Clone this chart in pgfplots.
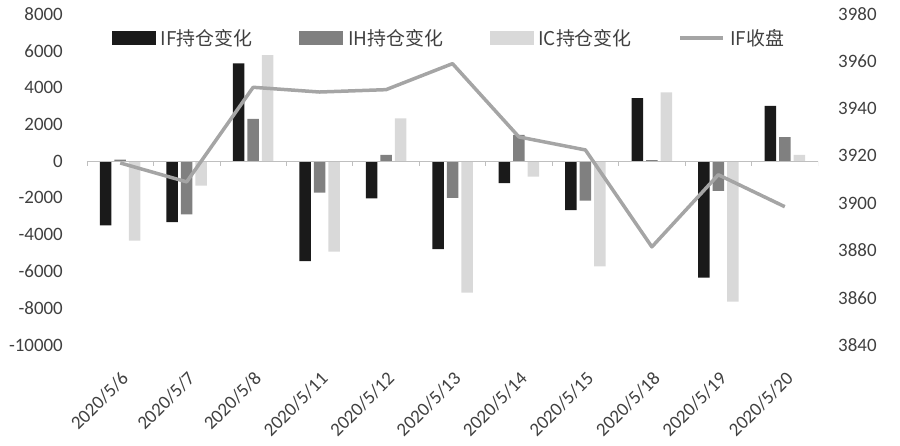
\documentclass[border=0pt]{standalone}
\usepackage{fontspec}
\setmainfont{Carlito}
\newfontfamily\cjk{Noto Sans CJK SC}
\usepackage{pgfplots}
\pgfplotsset{compat=1.18}
\definecolor{cIF}{HTML}{1A1A1A}
\definecolor{cIH}{HTML}{808080}
\definecolor{cIC}{HTML}{D9D9D9}
\definecolor{cLine}{HTML}{A5A5A5}
\definecolor{cTxt}{HTML}{404040}
\definecolor{cZero}{HTML}{BFBFBF}
\begin{document}
\begin{tikzpicture}
\path[use as bounding box] (-87bp,-101bp) rectangle (813bp,345bp);
\begin{axis}[
  scale only axis, width=731bp, height=331bp,
  at={(0,0)}, anchor=south west,
  xmin=-0.5, xmax=10.5, ymin=-10000, ymax=8000,
  ytick={-10000,-8000,...,8000},
  axis x line*=bottom, axis y line*=left,
  axis line style={draw=none},
  xtick={0,...,10},
  xticklabels={2020/5/6,2020/5/7,2020/5/8,2020/5/11,2020/5/12,2020/5/13,2020/5/14,2020/5/15,2020/5/18,2020/5/19,2020/5/20},
  xtick style={draw=none}, ytick style={draw=none},
  tick label style={font=\fontsize{19}{19}\selectfont, text=cTxt},
  xticklabel style={rotate=45, anchor=north east, inner sep=0pt},
  xticklabel shift=21bp,
  yticklabel style={inner sep=0pt, anchor=east},
  yticklabel shift=24bp,
  scaled y ticks=false,
  /pgf/number format/assume math mode=true,
  /pgf/number format/1000 sep={},
  ybar, bar width=11.5bp,
]
\addplot[fill=cIF, draw=none, bar shift=-14.5bp] coordinates {
  (0,-3500) (1,-3320) (2,5320) (3,-5440) (4,-2020) (5,-4790) (6,-1200) (7,-2670) (8,3420) (9,-6330) (10,3000)};
\addplot[fill=cIH, draw=none, bar shift=0bp] coordinates {
  (0,80) (1,-2890) (2,2290) (3,-1710) (4,340) (5,-2000) (6,1420) (7,-2150) (8,60) (9,-1620) (10,1300)};
\addplot[fill=cIC, draw=none, bar shift=14.5bp] coordinates {
  (0,-4330) (1,-1330) (2,5770) (3,-4920) (4,2330) (5,-7150) (6,-840) (7,-5730) (8,3740) (9,-7640) (10,340)};
\draw[cZero, line width=0.8bp] (axis cs:-0.5,0) -- (axis cs:10.5,0);
\draw[cZero, line width=0.8bp] (axis cs:-0.5,0) -- +(0bp,-5bp);
\draw[cZero, line width=0.8bp] (axis cs:0.5,0) -- +(0bp,-5bp);
\draw[cZero, line width=0.8bp] (axis cs:1.5,0) -- +(0bp,-5bp);
\draw[cZero, line width=0.8bp] (axis cs:2.5,0) -- +(0bp,-5bp);
\draw[cZero, line width=0.8bp] (axis cs:3.5,0) -- +(0bp,-5bp);
\draw[cZero, line width=0.8bp] (axis cs:4.5,0) -- +(0bp,-5bp);
\draw[cZero, line width=0.8bp] (axis cs:5.5,0) -- +(0bp,-5bp);
\draw[cZero, line width=0.8bp] (axis cs:6.5,0) -- +(0bp,-5bp);
\draw[cZero, line width=0.8bp] (axis cs:7.5,0) -- +(0bp,-5bp);
\draw[cZero, line width=0.8bp] (axis cs:8.5,0) -- +(0bp,-5bp);
\draw[cZero, line width=0.8bp] (axis cs:9.5,0) -- +(0bp,-5bp);
\draw[cZero, line width=0.8bp] (axis cs:10.5,0) -- +(0bp,-5bp);
\end{axis}
\begin{axis}[
  scale only axis, width=731bp, height=331bp,
  at={(0,0)}, anchor=south west,
  xmin=-0.5, xmax=10.5, ymin=3840, ymax=3980,
  ytick={3840,3860,...,3980},
  axis y line*=right, axis x line=none,
  axis line style={draw=none},
  xtick=\empty,
  ytick style={draw=none},
  tick label style={font=\fontsize{19}{19}\selectfont, text=cTxt},
  yticklabel style={inner sep=0pt, anchor=west},
  yticklabel shift=20bp,
  scaled y ticks=false,
  /pgf/number format/assume math mode=true,
  /pgf/number format/1000 sep={},
  legend columns=4,
  legend style={draw=none, fill=none, inner sep=0pt, outer sep=0pt,
    at={(0.0342,0.927)}, anchor=west,
    font=\cjk\fontsize{19}{19}\selectfont, text=cTxt,
    nodes={inner xsep=2.5bp, inner ysep=1bp},
    /tikz/every odd column/.append style={column sep=3bp},
    /tikz/every even column/.append style={column sep=44bp}},
  legend cell align=left,
]
\addlegendimage{legend image code/.code={\fill[cIF] (0bp,-6.5bp) rectangle (43bp,6.5bp);}}
\addlegendentry{IF持仓变化}
\addlegendimage{legend image code/.code={\fill[cIH] (0bp,-6.5bp) rectangle (43bp,6.5bp);}}
\addlegendentry{IH持仓变化}
\addlegendimage{legend image code/.code={\fill[cIC] (0bp,-6.5bp) rectangle (43bp,6.5bp);}}
\addlegendentry{IC持仓变化}
\addplot[cLine, line width=3.5bp, line join=round, mark=none,
  legend image code/.code={\draw[cLine, line width=3.5bp] (0bp,0bp) -- (43bp,0bp);}]
  coordinates {(0,3917) (1,3909) (2,3949) (3,3947) (4,3948) (5,3959) (6,3928) (7,3922.5) (8,3881.5) (9,3912) (10,3898.5)};
\addlegendentry{IF收盘}
\end{axis}
\end{tikzpicture}
\end{document}
